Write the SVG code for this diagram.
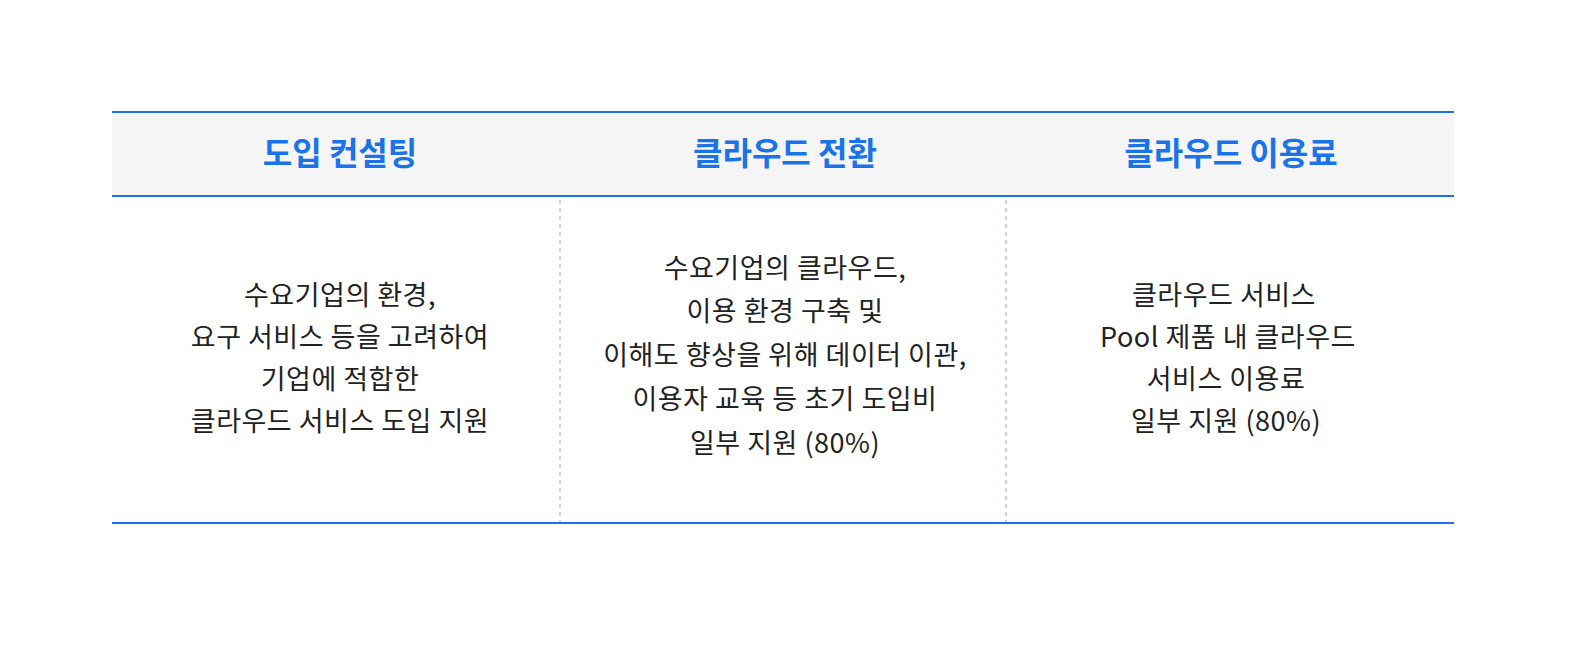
<svg xmlns="http://www.w3.org/2000/svg" width="1584" height="646" viewBox="0 0 1584 646">
<style>
.h{font-family:"Noto Sans CJK KR","Noto Sans",sans-serif;font-size:32px;font-weight:bold;fill:#1a73e8;text-anchor:middle}
.b{font-family:"Noto Sans CJK KR","Noto Sans",sans-serif;font-size:27px;letter-spacing:0.5px;fill:#222;text-anchor:middle}
.l{stroke:#1a73e8;stroke-width:2}
.d{stroke:#a9c8ee;stroke-width:1.5;stroke-dasharray:4 4}
</style>
<rect width="1584" height="646" fill="#fff"/>
<rect x="112" y="112" width="1342" height="84" fill="#f5f5f5"/>
<g id="lines">
<line class="l" x1="112" y1="112" x2="1454" y2="112"/>
<line class="l" x1="112" y1="196" x2="1454" y2="196"/>
<line class="l" x1="112" y1="523" x2="1454" y2="523"/>
<line class="d" x1="560" y1="200" x2="560" y2="522"/>
<line class="d" x1="1006" y1="200" x2="1006" y2="522"/>
</g>
<g id="col1">
<text class="h" x="340" y="165">도입 컨설팅</text>
<text class="b" x="340" y="305">수요기업의 환경,</text>
<text class="b" x="340" y="347">요구 서비스 등을 고려하여</text>
<text class="b" x="340" y="389">기업에 적합한</text>
<text class="b" x="340" y="431">클라우드 서비스 도입 지원</text>
</g>
<g id="col2">
<text class="h" x="785" y="165">클라우드 전환</text>
<text class="b" x="785" y="278">수요기업의 클라우드,</text>
<text class="b" x="785" y="321">이용 환경 구축 및</text>
<text class="b" x="785" y="365">이해도 향상을 위해 데이터 이관,</text>
<text class="b" x="785" y="409">이용자 교육 등 초기 도입비</text>
<text class="b" x="785" y="453">일부 지원 (80%)</text>
</g>
<g id="col3">
<text class="h" x="1231" y="165">클라우드 이용료</text>
<text class="b" x="1224" y="305">클라우드 서비스</text>
<text class="b" x="1228" y="347">Pool 제품 내 클라우드</text>
<text class="b" x="1226" y="389">서비스 이용료</text>
<text class="b" x="1226" y="431">일부 지원 (80%)</text>
</g>
</svg>
